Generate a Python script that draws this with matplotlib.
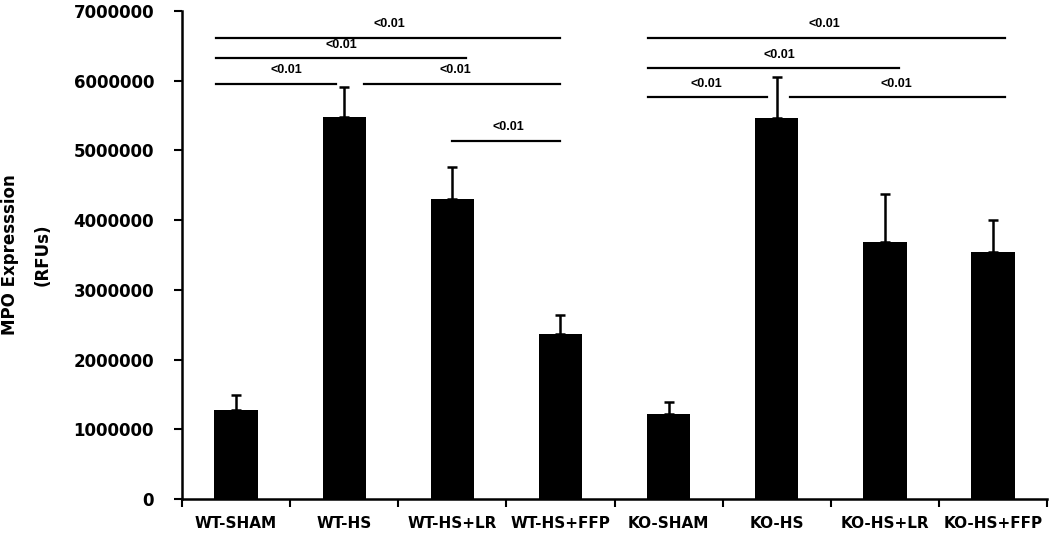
import numpy as np
from matplotlib import pyplot as plt

groups = ['WT-SHAM', 'WT-HS', 'WT-HS+LR', 'WT-HS+FFP',
          'KO-SHAM', 'KO-HS', 'KO-HS+LR', 'KO-HS+FFP']
mpo = [1270000, 5480000, 4300000, 2370000, 1220000, 5470000, 3680000, 3550000]
err = [220000, 430000, 460000, 270000, 170000, 590000, 690000, 450000]

# significance bars: (x start, x end, y, label x)
sig_lines = [
    (-0.185, 3.0, 6620000, 1.42),
    (-0.185, 2.13, 6320000, 0.97),
    (-0.185, 0.92, 5960000, 0.47),
    (1.18, 3.0, 5960000, 2.03),
    (2.0, 3.0, 5140000, 2.52),
    (3.81, 7.11, 6620000, 5.44),
    (3.81, 6.13, 6180000, 5.02),
    (3.81, 4.91, 5760000, 4.35),
    (5.12, 7.11, 5760000, 6.11),
]
sig_text = '<0.01'

plt.rcParams['font.family'] = 'DejaVu Sans'
plt.rcParams['font.weight'] = 'bold'

fig = plt.figure(figsize=(10.5, 5.38), dpi=100)
ax = fig.add_axes([0.1733, 0.0725, 0.824, 0.907])

x = np.arange(len(groups))
ax.bar(x, mpo, width=0.4, color='black', zorder=2)
ax.errorbar(x, mpo, yerr=[np.zeros(len(err)), err], fmt='none',
            ecolor='black', elinewidth=1.8, capsize=3.5, capthick=1.8, zorder=3)

for x0, x1, y, tx in sig_lines:
    ax.plot([x0, x1], [y, y], color='black', lw=1.6, clip_on=False)
    ax.text(tx, y + 110000, sig_text, ha='center', va='bottom',
            fontsize=9, fontweight='bold', family='Liberation Sans')

ax.set_xlim(-0.5, 7.5)
ax.set_ylim(0, 7000000)
ax.set_yticks(np.arange(0, 7000001, 1000000))
ax.set_yticklabels([str(v) for v in range(0, 7000001, 1000000)], fontsize=12, fontweight='bold')
ax.set_xticks(x)
ax.set_xticklabels(groups, fontsize=11, fontweight='bold')
ax.set_xticks(np.arange(-0.5, 8, 1), minor=True)
ax.tick_params(axis='x', which='major', length=0, pad=12)
ax.tick_params(axis='x', which='minor', length=6, width=1.5, direction='out')
ax.tick_params(axis='y', length=6, width=1.5, direction='out', pad=14)

for s in ['top', 'right']:
    ax.spines[s].set_visible(False)
for s in ['left', 'bottom']:
    ax.spines[s].set_linewidth(1.8)

ax.set_ylabel('MPO Expresssion\n(RFUs)', fontsize=12, fontweight='bold',
              labelpad=16, linespacing=2.0)

fig.savefig('out.png', dpi=100)
